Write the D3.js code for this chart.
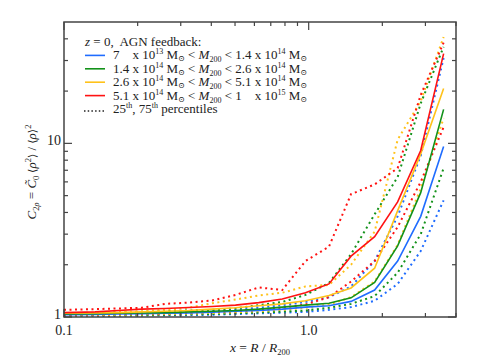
<!DOCTYPE html>
<html lang="en">
<head>
<meta charset="utf-8">
<title>Clumping factor profiles</title>
<script src="https://d3js.org/d3.v7.min.js"></script>
<style>
  body { margin: 0; background: #fff; }
  #chart, #chart text, #chart tspan { font-family: "Liberation Serif", "Times New Roman", Times, "DejaVu Serif", serif; }
  #chart text { white-space: pre; }
</style>
</head>
<body>
<svg id="chart" width="477" height="361"></svg>
<script>
// radial bins x = R / R200
const radius = [0.1, 0.134, 0.167, 0.208, 0.259, 0.323, 0.403, 0.502, 0.625, 0.78, 0.97, 1.21, 1.49, 1.86, 2.31, 2.87, 3.56];

// medians
const blueMed   = [1.03, 1.035, 1.04, 1.045, 1.05, 1.055, 1.065, 1.08, 1.09, 1.11, 1.14, 1.16, 1.23, 1.43, 2.1, 3.8, 9.6];
const greenMed  = [1.04, 1.045, 1.05, 1.055, 1.06, 1.07, 1.08, 1.09, 1.11, 1.14, 1.17, 1.2, 1.29, 1.58, 2.57, 5.2, 15.7];
const yellowMed = [1.05, 1.055, 1.06, 1.07, 1.08, 1.09, 1.11, 1.13, 1.16, 1.19, 1.24, 1.33, 1.47, 1.91, 4.1, 8.7, 20.7];
const redMed    = [1.06, 1.07, 1.09, 1.11, 1.12, 1.135, 1.15, 1.17, 1.21, 1.27, 1.38, 1.55, 2.24, 2.9, 4.6, 9.1, 32.9];

// 25th percentiles
const blueLo   = [1.01, 1.012, 1.015, 1.018, 1.02, 1.025, 1.03, 1.04, 1.05, 1.06, 1.07, 1.1, 1.14, 1.24, 1.55, 2.4, 4.7];
const greenLo  = [1.015, 1.02, 1.022, 1.025, 1.03, 1.035, 1.04, 1.05, 1.06, 1.075, 1.09, 1.13, 1.19, 1.32, 1.8, 3.0, 7.2];
const yellowLo = [1.02, 1.025, 1.03, 1.035, 1.04, 1.045, 1.055, 1.065, 1.08, 1.1, 1.13, 1.18, 1.3, 1.6, 2.6, 5.5, 14];
const redLo    = [1.03, 1.035, 1.04, 1.045, 1.05, 1.06, 1.07, 1.08, 1.1, 1.13, 1.18, 1.3, 1.6, 2.1, 3.3, 6.0, 12.4];

// 75th percentiles
const blueHi   = [1.04, 1.045, 1.05, 1.055, 1.06, 1.07, 1.08, 1.1, 1.13, 1.17, 1.22, 1.3, 1.5, 2.1, 3.8, 8.5, 31];
const greenHi  = [1.05, 1.055, 1.06, 1.07, 1.08, 1.09, 1.1, 1.12, 1.17, 1.22, 1.34, 1.57, 2.3, 3.9, 6.4, 17, 36];
const yellowHi = [1.05, 1.06, 1.07, 1.08, 1.1, 1.13, 1.2, 1.26, 1.33, 1.38, 1.5, 1.53, 2.0, 3.1, 10.5, 17.5, 41];
const redHi    = [1.1, 1.11, 1.12, 1.13, 1.19, 1.21, 1.245, 1.34, 1.48, 1.43, 2.1, 2.54, 5.1, 5.8, 7.2, 19, 38];

const xTickLabels = ["0.1", "1.0"];
const yTickLabels = ["1", "10"];

const series = [
  { color: "#1f6cff", med: blueMed,   lo: blueLo,   hi: blueHi },
  { color: "#13921a", med: greenMed,  lo: greenLo,  hi: greenHi },
  { color: "#ffc21a", med: yellowMed, lo: yellowLo, hi: yellowHi },
  { color: "#ff1212", med: redMed,    lo: redLo,    hi: redHi }
];

const svg = d3.select("#chart");
const pLeft = 64, pRight = 456, pTop = 22, pBottom = 317;
const ink = "#222";

const x = d3.scaleLog().domain([0.1, 4]).range([pLeft, pRight]);
const y = d3.scaleLog().domain([1, 50]).range([pBottom, pTop]);

svg.append("clipPath").attr("id", "clip")
  .append("rect").attr("x", pLeft).attr("y", pTop).attr("width", pRight - pLeft).attr("height", pBottom - pTop);

const line = d3.line().x(d => x(d[0])).y(d => y(d[1]));
const plot = svg.append("g").attr("clip-path", "url(#clip)");

// dotted percentiles first, medians on top
series.forEach(s => {
  [s.lo, s.hi].forEach(arr => {
    plot.append("path")
      .datum(radius.map((r, i) => [r, arr[i]]))
      .attr("d", line)
      .attr("fill", "none")
      .attr("stroke", s.color)
      .attr("stroke-width", 2)
      .attr("stroke-dasharray", "2,3.5");
  });
});
series.forEach(s => {
  plot.append("path")
    .datum(radius.map((r, i) => [r, s.med[i]]))
    .attr("d", line)
    .attr("fill", "none")
    .attr("stroke", s.color)
    .attr("stroke-width", 1.6);
});

// frame
svg.append("rect")
  .attr("x", pLeft).attr("y", pTop).attr("width", pRight - pLeft).attr("height", pBottom - pTop)
  .attr("fill", "none").attr("stroke", "#444").attr("stroke-width", 1.5);

// ticks (inward, all four sides)
const xMajor = [0.1, 1];
const xMinor = [0.2, 0.3, 0.4, 0.5, 0.6, 0.7, 0.8, 0.9, 2, 3, 4];
const yMajor = [1, 10];
const yMinor = [2, 3, 4, 5, 6, 7, 8, 9, 20, 30, 40];
const tickG = svg.append("g").attr("stroke", "#444").attr("stroke-width", 1.2);

function xTick(v, len) {
  tickG.append("line").attr("x1", x(v)).attr("x2", x(v)).attr("y1", pBottom).attr("y2", pBottom - len);
  tickG.append("line").attr("x1", x(v)).attr("x2", x(v)).attr("y1", pTop).attr("y2", pTop + len);
}
function yTick(v, len) {
  tickG.append("line").attr("y1", y(v)).attr("y2", y(v)).attr("x1", pLeft).attr("x2", pLeft + len);
  tickG.append("line").attr("y1", y(v)).attr("y2", y(v)).attr("x1", pRight).attr("x2", pRight - len);
}
xMajor.forEach(v => xTick(v, 8));
xMinor.forEach(v => xTick(v, 4));
yMajor.forEach(v => yTick(v, 8));
yMinor.forEach(v => yTick(v, 4));

// tick labels
xMajor.forEach((v, i) => {
  svg.append("text").attr("x", x(v)).attr("y", pBottom + 18).attr("fill", ink)
    .attr("text-anchor", "middle").attr("font-size", 14).text(xTickLabels[i]);
});
yMajor.forEach((v, i) => {
  svg.append("text").attr("x", pLeft - 3).attr("y", y(v) + 2).attr("fill", ink)
    .attr("text-anchor", "end").attr("font-size", 14).text(yTickLabels[i]);
});

// x axis title
const xt = svg.append("text").attr("x", 260).attr("y", 352).attr("fill", ink)
  .attr("text-anchor", "middle").attr("font-size", 13.5);
xt.append("tspan").attr("font-style", "italic").text("x");
xt.append("tspan").text(" = ");
xt.append("tspan").attr("font-style", "italic").text("R");
xt.append("tspan").text(" / ");
xt.append("tspan").attr("font-style", "italic").text("R");
xt.append("tspan").attr("font-size", 8.5).attr("dy", 3).text("200");

// y axis title
const yt = svg.append("text").attr("transform", "translate(36,172) rotate(-90)").attr("fill", ink)
  .attr("text-anchor", "middle").attr("font-size", 13);
yt.append("tspan").attr("font-style", "italic").text("C");
yt.append("tspan").attr("font-size", 8.5).attr("dy", 3).text("2");
yt.append("tspan").attr("font-size", 8.5).attr("font-style", "italic").text("ρ");
yt.append("tspan").attr("dy", -3).text(" = ");
yt.append("tspan").attr("font-style", "italic").text("C\u0303");
yt.append("tspan").attr("font-size", 8.5).attr("dy", 3).text("0");
yt.append("tspan").attr("dy", -3).attr("font-size", 11).text(" \u27E8");
yt.append("tspan").attr("font-style", "italic").text("ρ");
yt.append("tspan").attr("font-size", 8.5).attr("dy", -5).text("2");
yt.append("tspan").attr("dy", 5).attr("font-size", 11).text("\u27E9");
yt.append("tspan").text(" / ");
yt.append("tspan").attr("font-size", 11).text("\u27E8");
yt.append("tspan").attr("font-style", "italic").text("ρ");
yt.append("tspan").attr("font-size", 11).text("\u27E9");
yt.append("tspan").attr("font-size", 8.5).attr("dy", -5).text("2");

// legend
const legX = 85, legY0 = 46, legDy = 13.4, fs = 13;
const lg = svg.append("g");
const title = lg.append("text").attr("x", legX).attr("y", legY0).attr("font-size", fs).attr("fill", ink);
title.append("tspan").attr("font-style", "italic").text("z");
title.append("tspan").text(" = 0,  AGN feedback:");

const massRows = [
  ["7    x 10", "13", "1.4 x 10", "14"],
  ["1.4 x 10", "14", "2.6 x 10", "14"],
  ["2.6 x 10", "14", "5.1 x 10", "14"],
  ["5.1 x 10", "14", "1    x 10", "15"]
];
massRows.forEach((r, i) => {
  const yy = legY0 + legDy * (i + 1);
  lg.append("line").attr("x1", legX).attr("x2", legX + 20).attr("y1", yy - 4).attr("y2", yy - 4)
    .attr("stroke", series[i].color).attr("stroke-width", 1.6);
  const t = lg.append("text").attr("x", legX + 28).attr("y", yy).attr("font-size", fs).attr("fill", ink);
  t.append("tspan").text(r[0]);
  t.append("tspan").attr("font-size", 8).attr("dy", -5).text(r[1]);
  t.append("tspan").attr("dy", 5).text(" M");
  t.append("tspan").attr("font-size", 8).attr("dy", 2).text("\u2299");
  t.append("tspan").attr("dy", -2).text(" < ");
  t.append("tspan").attr("font-style", "italic").text("M");
  t.append("tspan").attr("font-size", 8).attr("dy", 3).text("200");
  t.append("tspan").attr("dy", -3).text(" < " + r[2]);
  t.append("tspan").attr("font-size", 8).attr("dy", -5).text(r[3]);
  t.append("tspan").attr("dy", 5).text(" M");
  t.append("tspan").attr("font-size", 8).attr("dy", 2).text("\u2299");
});
const yp = legY0 + legDy * 5;
lg.append("line").attr("x1", legX - 1).attr("x2", legX + 20).attr("y1", yp - 2).attr("y2", yp - 2)
  .attr("stroke", ink).attr("stroke-width", 1.5).attr("stroke-dasharray", "1.5,2.2");
const pt = lg.append("text").attr("x", legX + 28).attr("y", yp).attr("font-size", fs).attr("fill", ink);
pt.append("tspan").text("25");
pt.append("tspan").attr("font-size", 8).attr("dy", -5).text("th");
pt.append("tspan").attr("dy", 5).text(", 75");
pt.append("tspan").attr("font-size", 8).attr("dy", -5).text("th");
pt.append("tspan").attr("dy", 5).text(" percentiles");
</script>
</body>
</html>
